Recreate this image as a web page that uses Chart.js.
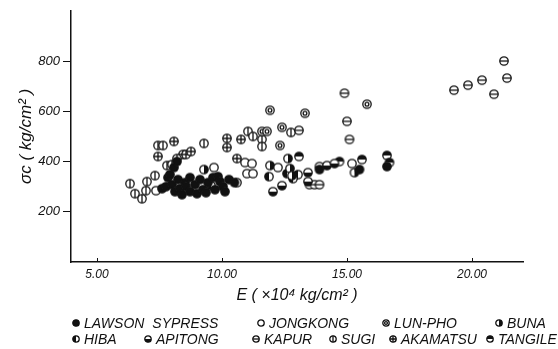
<!DOCTYPE html>
<html>
<head>
<meta charset="utf-8">
<script src="https://cdn.jsdelivr.net/npm/chart.js@4"></script>
<style>
body{margin:0;background:#fff;}
#wrap{position:relative;width:558px;height:349px;}
#legend{position:absolute;left:0;top:0;width:558px;height:349px;font:italic 14px "Liberation Sans",Arial,sans-serif;letter-spacing:0px;word-spacing:4px;color:#111;}
.item{position:absolute;white-space:nowrap;display:flex;align-items:center;height:16px;}
.item canvas{margin-right:3px;}
</style>
</head>
<body>
<div id="wrap">
<canvas id="myChart" width="558" height="306"></canvas>
<div id="legend"></div>
</div>
<script>
// E (x10^4 kg/cm2), sigma_c (kg/cm2)
var species = ['LAWSON SYPRESS','JONGKONG','LUN-PHO','BUNA','HIBA','APITONG','KAPUR','SUGI','AKAMATSU','TANGILE'];
var kinds   = ['full','open','ring','right','left','bottom','hline','vline','cross','top'];

var lawson = [[7.6,292],[7.76,300],[7.84,336],[7.92,348],[8.08,376],[8.2,400],[8.0,308],[8.12,280],[8.24,328],[8.32,292],[8.4,268],
  [8.52,316],[8.56,300],[8.72,336],[8.72,280],[8.92,308],[9.0,272],[9.12,328],[9.24,288],[9.36,276],[9.44,316],[9.64,336],
  [9.72,288],[9.84,340],[9.92,320],[10.04,300],[10.12,280],[10.28,328],[10.5,316],[13.9,368],[15.5,368],[16.6,380]];
var jongkong = [[7.36,284],[9.68,376],[10.92,396],[11.2,392],[11.0,352],[11.24,352],[12.24,376],[15.2,392]];
var lunpho = [[15.8,628],[11.92,604],[13.32,592],[12.4,536],[12.32,464],[11.6,520],[11.8,520]];
var buna = [[9.28,368],[11.92,384],[12.64,412],[12.72,372],[12.8,344],[15.3,356]];
var hiba = [[9.56,304],[10.6,316],[11.88,340],[12.6,352],[13.04,348],[12.84,332]];
var apitong = [[12.4,304],[12.04,280],[13.44,356],[13.44,320],[13.9,380],[14.2,384],[14.5,392]];
var kapur = [[14.9,672],[15.0,560],[13.08,524],[15.1,488],[13.5,308],[13.7,308],[13.9,308],
  [21.28,800],[21.4,732],[20.4,724],[19.84,704],[19.28,684],[20.88,668]];
var sugi = [[6.32,312],[6.52,272],[6.8,252],[6.96,284],[7.0,320],[7.32,344],[7.44,464],[7.64,464],[7.8,384],[8.0,388],
  [8.2,412],[9.28,472],[11.04,520],[11.24,500],[11.6,488],[11.6,460],[12.76,516]];
var akamatsu = [[7.44,420],[8.08,480],[8.44,428],[8.56,428],[8.76,440],[10.2,492],[10.2,456],[10.6,412],[10.76,488]];
var tangile = [[13.08,420],[14.7,400],[15.6,408],[16.6,424],[16.7,396]];

var series = [lawson,jongkong,lunpho,buna,hiba,apitong,kapur,sugi,akamatsu,tangile];
var xTicks = [5,10,15,20];
var yTicks = [200,400,600,800];

var ink = '#111';
var fontFam = '"Liberation Sans", Arial, sans-serif';

// little circle glyphs like the ones in the paper
function marker(kind, r){
    var s = Math.ceil(r*2+3), c = document.createElement('canvas');
    c.width = s; c.height = s;
    var g = c.getContext('2d'), m = s/2;
    g.lineWidth = 1.3; g.strokeStyle = ink;
    g.fillStyle = '#fff';
    g.beginPath(); g.arc(m,m,r,0,Math.PI*2); g.fill();
    g.fillStyle = ink;
    var half = {right:[-Math.PI/2,Math.PI/2], left:[Math.PI/2,Math.PI*1.5], bottom:[0,Math.PI], top:[Math.PI,Math.PI*2]};
    if(kind=='full'){ g.beginPath(); g.arc(m,m,r,0,Math.PI*2); g.fill(); }
    if(half[kind]){ g.beginPath(); g.arc(m,m,r,half[kind][0],half[kind][1]); g.closePath(); g.fill(); }
    g.beginPath();
    if(kind=='hline'||kind=='cross'){ g.moveTo(m-r,m); g.lineTo(m+r,m); }
    if(kind=='vline'||kind=='cross'){ g.moveTo(m,m-r); g.lineTo(m,m+r); }
    g.stroke();
    if(kind=='ring'){ g.beginPath(); g.arc(m,m,r*0.45,0,Math.PI*2); g.stroke(); }
    g.beginPath(); g.arc(m,m,r,0,Math.PI*2); g.stroke();
    return c;
}

var datasets = series.map(function(pts,i){
    return {
        label: species[i],
        data: pts.map(function(p){ return {x:p[0], y:p[1]}; }),
        pointStyle: marker(kinds[i], 4.2),
        pointRadius: 5,
        showLine: false
    };
});

// x ticks in the scan point up into the plot
var upTicks = {
    id:'upTicks',
    afterDraw: function(chart){
        var sx = chart.scales.x, g = chart.ctx;
        g.save(); g.strokeStyle = ink; g.lineWidth = 1;
        xTicks.forEach(function(v){
            var px = Math.round(sx.getPixelForValue(v))+0.5;
            g.beginPath(); g.moveTo(px, sx.top); g.lineTo(px, sx.top-4); g.stroke();
        });
        g.restore();
    }
};

var ctx = document.getElementById('myChart').getContext('2d');
var myChart = new Chart(ctx, {
    type: 'scatter',
    data: { datasets: datasets },
    plugins: [upTicks],
    options: {
        responsive: false,
        devicePixelRatio: 1,
        animation: false,
        layout: { padding: { top:10, right:35, left:0, bottom:0 } },
        plugins: { legend:{display:false}, tooltip:{enabled:false} },
        scales: {
            x: {
                type:'linear', min:3.96, max:22.04,
                afterBuildTicks: function(s){ s.ticks = xTicks.map(function(v){ return {value:v}; }); },
                afterFit: function(s){ s.height = 44; },
                ticks: { callback:function(v){ return v.toFixed(2); }, color:ink, padding:5, maxRotation:0,
                         font:{family:fontFam, style:'italic', size:12} },
                grid: { drawOnChartArea:false, drawTicks:false },
                border: { color:ink, width:1.5 },
                title: { display:true, text:'E ( \u00d710\u2074 kg/cm\u00b2 )', color:ink,
                         font:{family:fontFam, style:'italic', size:16}, padding:{top:0,bottom:1} }
            },
            y: {
                min:0, max:1000,
                afterBuildTicks: function(s){ s.ticks = yTicks.map(function(v){ return {value:v}; }); },
                afterFit: function(s){ s.width = 71; },
                ticks: { color:ink, padding:3, font:{family:fontFam, style:'italic', size:13} },
                grid: { drawOnChartArea:false, drawTicks:true, tickLength:8, color:ink },
                border: { color:ink, width:1.5 },
                title: { display:true, text:'\u03c3c ( kg/cm\u00b2 )', color:ink,
                         font:{family:fontFam, style:'italic', size:17}, padding:{top:16,bottom:0} }
            }
        }
    }
});

// legend in two rows under the plot, as in the figure
var legendRows = [[0,1,2,3],[4,5,6,7,8,9]];
var legendTop = [315, 331];
var legendLeft = [[71,256,381,494],[71,143,251,328,388,485]];
var legendBox = document.getElementById('legend');
legendRows.forEach(function(row,ri){
    row.forEach(function(si,k){
        var d = document.createElement('div');
        d.className = 'item';
        d.style.left = legendLeft[ri][k]+'px';
        d.style.top = legendTop[ri]+'px';
        d.appendChild(marker(kinds[si], 3.2));
        var t = document.createElement('span');
        t.textContent = species[si];
        d.appendChild(t);
        legendBox.appendChild(d);
    });
});
</script>
</body>
</html>
